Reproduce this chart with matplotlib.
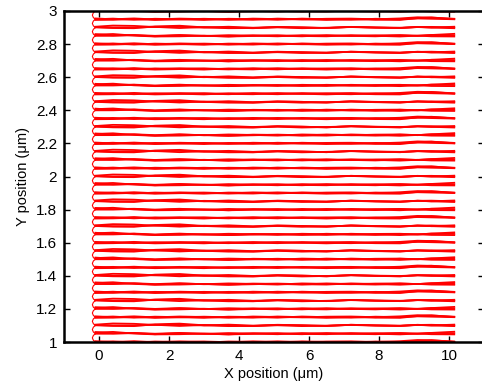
import matplotlib
matplotlib.use("Agg")
import matplotlib.pyplot as plt
import numpy as np

plt.rcParams['font.family'] = ['Liberation Sans', 'DejaVu Sans']

# centre of each scan line (um)
line_y = [1.00, 1.05, 1.10, 1.15, 1.20, 1.25, 1.30, 1.35, 1.40, 1.45,
          1.50, 1.55, 1.60, 1.65, 1.70, 1.75, 1.80, 1.85, 1.90, 1.95,
          2.00, 2.05, 2.10, 2.15, 2.20, 2.25, 2.30, 2.35, 2.40, 2.45,
          2.50, 2.55, 2.60, 2.65, 2.70, 2.75, 2.80, 2.85, 2.90, 2.95,
          3.00]

# x samples along a scan line and the deviation of each pass (um)
x_pts = [-0.10, 0.4, 1.0, 1.6, 2.3, 3.0, 3.7, 4.4, 5.1, 5.8, 6.5, 7.2,
         7.9, 8.6, 9.1, 9.5, 10.15]
trace_a = [0.000, 0.004, -0.003, 0.003, 0.000, -0.004, 0.003, 0.001,
           -0.003, 0.004, 0.000, -0.003, 0.003, 0.000, 0.005, 0.003, 0.000]
trace_b = [0.005, 0.000, 0.005, -0.001, 0.004, 0.001, -0.003, 0.004,
           0.001, -0.001, 0.003, 0.004, 0.000, 0.005, 0.012, 0.010, 0.003]
trace_c = [-0.004, -0.003, 0.001, -0.004, -0.001, 0.003, -0.001, -0.003,
           0.004, 0.000, -0.004, 0.001, -0.003, -0.004, 0.007, 0.011, 0.001]

# turnaround loop at the left end, between neighbouring lines
loop_dx = [-0.10, -0.16, -0.19, -0.16, -0.10]
loop_dy = [0.000, 0.010, 0.025, 0.040, 0.050]

x_ticks = [0, 2, 4, 6, 8, 10]
y_ticks = [1, 1.2, 1.4, 1.6, 1.8, 2, 2.2, 2.4, 2.6, 2.8, 3]
y_labels = ["1", "1.2", "1.4", "1.6", "1.8", "2", "2.2", "2.4", "2.6", "2.8", "3"]

fig = plt.figure(figsize=(4.82, 3.88), dpi=100)
ax = fig.add_axes([64 / 482, 46 / 388, 420 / 482, 331 / 388])

xp = np.array(x_pts)
for k, yc in enumerate(line_y):
    for i, tr in enumerate([trace_a, trace_b, trace_c]):
        # shift the passes a little from line to line
        tr = np.roll(np.array(tr), k % 3 * (i + 1))
        ax.plot(xp, yc + tr, color='red', lw=1.3)
    if k < len(line_y) - 1:
        ax.plot(loop_dx, yc + np.array(loop_dy), color='red', lw=0.8)

ax.set_xlim(-1, 11)
ax.set_ylim(1, 3)
ax.set_xticks(x_ticks)
ax.set_yticks(y_ticks)
ax.set_yticklabels(y_labels)
ax.tick_params(direction='in', length=4, width=1, labelsize=11,
               top=True, right=True, pad=5)
for s in ['left', 'bottom', 'top']:
    ax.spines[s].set_linewidth(1.8)
ax.spines['right'].set_visible(False)

ax.set_xlabel("X position (\u03bcm)", fontsize=10.5, labelpad=3)
ax.set_ylabel("Y position (\u03bcm)", fontsize=10.5, labelpad=4)

fig.savefig("out.png", dpi=100)
